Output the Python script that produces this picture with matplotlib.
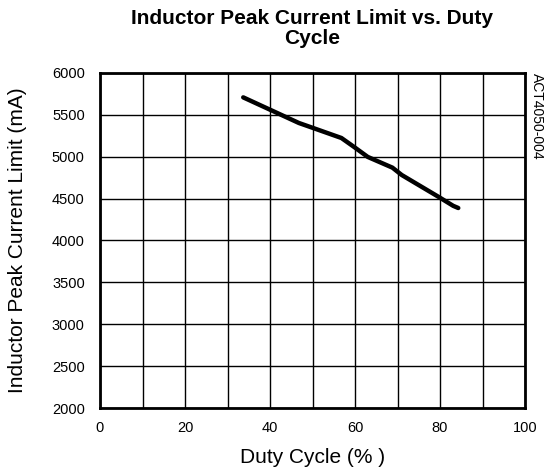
import matplotlib.pyplot as plt
import numpy as np

duty = [33.7, 40.0, 46.8, 50.0, 56.8, 59.7, 63.0, 68.8, 71.0, 79.7, 83.1, 84.3]
current = [5709, 5562, 5403, 5346, 5224, 5120, 4998, 4870, 4782, 4520, 4414, 4388]

x_ticks = [0, 20, 40, 60, 80, 100]
y_ticks = [2000, 2500, 3000, 3500, 4000, 4500, 5000, 5500, 6000]

plt.rcParams['font.family'] = ['Liberation Sans', 'DejaVu Sans']

fig = plt.figure(figsize=(5.51, 4.73), dpi=100)
ax = fig.add_axes([100/551, 1 - 408/473, 425/551, 335/473])

ax.plot(duty, current, color='black', lw=3.2, solid_capstyle='round', zorder=3)

ax.set_xlim(0, 100)
ax.set_ylim(2000, 6000)
ax.set_xticks(x_ticks)
ax.set_xticks(np.arange(0, 101, 10), minor=True)
ax.set_yticks(y_ticks)
ax.grid(True, which='both', color='black', lw=1.0)
ax.tick_params(which='both', length=0, labelsize=10.5)
ax.tick_params(axis='x', pad=9)
ax.tick_params(axis='y', pad=11)
for s in ax.spines.values():
    s.set_linewidth(2.0)

ax.set_xlabel('Duty Cycle (% )', fontsize=15, labelpad=10)
ax.set_ylabel('Inductor Peak Current Limit (mA)', fontsize=15, labelpad=18)
fig.text(312/551, 1 - 9/473, 'Inductor Peak Current Limit vs. Duty\nCycle',
         ha='center', va='top', fontsize=15, fontweight='bold', linespacing=1.1)
fig.text(537/551, 1 - 73/473, 'ACT4050-004', rotation=-90, ha='center', va='top',
         fontsize=10)

fig.savefig('out.png', dpi=100, facecolor='white')
